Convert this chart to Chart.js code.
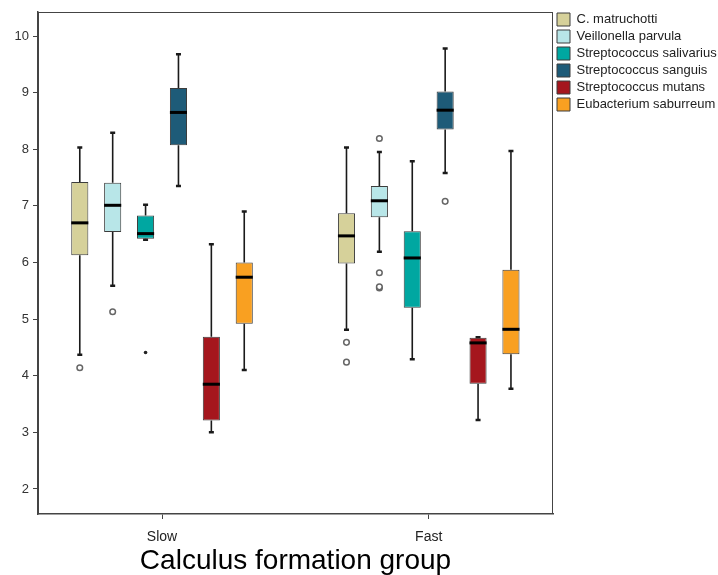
<!DOCTYPE html>
<html>
<head>
<meta charset="utf-8">
<title>Calculus formation group</title>
<script src="https://cdn.jsdelivr.net/npm/chart.js@4.4.1/dist/chart.umd.min.js"></script>
<style>
    body { margin: 0; background: #fff; }
    #boxChart { display: block; }
</style>
</head>
<body>
<canvas id="boxChart" width="718" height="575"></canvas>
<script>
// Groups on the x axis
const groups = ['Slow', 'Fast'];

// Species (one box per group each)
const species = [
    'C. matruchotti',
    'Veillonella parvula',
    'Streptococcus salivarius',
    'Streptococcus sanguis',
    'Streptococcus mutans',
    'Eubacterium saburreum'
];
const colors = ['#d6d19a', '#b8e6e8', '#00a7a1', '#1e5b78', '#a5161d', '#f9a021'];

// Box values, [Slow, Fast]
const whiskerLow  = [[4.37, 4.81], [5.59, 6.19], [6.40, 4.29], [7.35, 7.58], [3.00, 3.22], [4.10, 3.77]];
const q1          = [[6.13, 5.98], [6.54, 6.80], [6.42, 5.20], [8.07, 8.35], [3.21, 3.86], [4.92, 4.38]];
const median      = [[6.70, 6.47], [7.01, 7.09], [6.51, 6.08], [8.65, 8.69], [3.85, 4.58], [5.74, 4.82]];
const q3          = [[7.42, 6.87], [7.41, 7.35], [6.83, 6.55], [9.08, 9.02], [4.69, 4.67], [6.00, 5.87]];
const whiskerHigh = [[8.03, 8.03], [8.29, 7.95], [7.02, 7.79], [9.68, 9.78], [6.32, 4.68], [6.90, 7.97]];

// Outliers (circles) and extremes (dots), [Slow, Fast]
const outliers = [[[4.14], [4.59, 4.24]], [[5.13], [8.19, 5.82, 5.55, 5.57]], [[], []], [[], [7.08]], [[], []], [[], []]];
const extremes = [[[], []], [[], []], [[4.41], []], [[], []], [[], []], [[], []]];

const yTicks = [2, 3, 4, 5, 6, 7, 8, 9, 10];

// Whiskers, medians and outlier marks, placed with the chart's scales
const boxPlotPlugin = {
    id: 'boxPlotExtras',
    afterLayout(chart) {
        // legend sits a little higher than the plot frame
        chart.legend.top -= 3;
    },
    beforeDatasetsDraw(chart) {
        const ctx = chart.ctx;
        const y = chart.scales.y;
        ctx.save();
        ctx.strokeStyle = '#1a1a1a';
        chart.data.datasets.forEach((ds, i) => {
            chart.getDatasetMeta(i).data.forEach((bar, j) => {
                const x = bar.x;
                ctx.lineWidth = 1.6;
                ctx.beginPath();
                ctx.moveTo(x, y.getPixelForValue(whiskerLow[i][j]));
                ctx.lineTo(x, y.getPixelForValue(q1[i][j]));
                ctx.moveTo(x, y.getPixelForValue(q3[i][j]));
                ctx.lineTo(x, y.getPixelForValue(whiskerHigh[i][j]));
                ctx.stroke();
                ctx.lineWidth = 2.5;
                ctx.beginPath();
                [whiskerLow[i][j], whiskerHigh[i][j]].forEach(v => {
                    const py = y.getPixelForValue(v);
                    ctx.moveTo(x - 2.5, py);
                    ctx.lineTo(x + 2.5, py);
                });
                ctx.stroke();
            });
        });
        ctx.restore();
    },
    afterDatasetsDraw(chart) {
        const ctx = chart.ctx;
        const y = chart.scales.y;
        ctx.save();
        chart.data.datasets.forEach((ds, i) => {
            chart.getDatasetMeta(i).data.forEach((bar, j) => {
                const x = bar.x;
                const half = bar.width / 2;
                const py = y.getPixelForValue(median[i][j]);
                ctx.strokeStyle = '#000';
                ctx.lineWidth = 3;
                ctx.beginPath();
                ctx.moveTo(x - half, py);
                ctx.lineTo(x + half, py);
                ctx.stroke();

                ctx.strokeStyle = '#666';
                ctx.lineWidth = 1.5;
                outliers[i][j].forEach(v => {
                    ctx.beginPath();
                    ctx.arc(x, y.getPixelForValue(v), 2.8, 0, Math.PI * 2);
                    ctx.fillStyle = '#fff';
                    ctx.fill();
                    ctx.stroke();
                });
                ctx.fillStyle = '#222';
                extremes[i][j].forEach(v => {
                    ctx.beginPath();
                    ctx.arc(x, y.getPixelForValue(v), 1.8, 0, Math.PI * 2);
                    ctx.fill();
                });
            });
        });
        ctx.restore();
    },
    afterDraw(chart) {
        const {left, top, right, bottom} = chart.chartArea;
        const ctx = chart.ctx;
        ctx.save();
        ctx.strokeStyle = '#444';
        ctx.lineWidth = 1;
        ctx.strokeRect(left + 0.5, top + 0.5, right - left - 1, bottom - top - 1);
        ctx.restore();
    }
};

const ctx = document.getElementById('boxChart').getContext('2d');
new Chart(ctx, {
    type: 'bar',
    data: {
        datasets: species.map((name, i) => ({
            label: name,
            data: groups.map((g, j) => ({ x: j + 1, y: [q1[i][j], q3[i][j]] })),
            backgroundColor: colors[i],
            borderColor: '#3c3c3c',
            borderWidth: 1,
            borderSkipped: false,
            categoryPercentage: 0.74,
            barPercentage: 0.52
        }))
    },
    options: {
        responsive: false,
        animation: false,
        layout: { padding: { top: 12, left: 0, right: 0, bottom: 0 } },
        scales: {
            x: {
                type: 'linear',
                offset: false,
                min: 0.535,
                max: 2.466,
                afterBuildTicks: scale => {
                    scale.ticks = groups.map((g, j) => ({ value: j + 1 }));
                },
                afterFit: scale => { scale.height = 61; },
                ticks: {
                    callback: value => groups[value - 1],
                    color: '#222',
                    font: { family: 'Liberation Sans, Arial', size: 14 },
                    padding: 10,
                    maxRotation: 0
                },
                grid: { offset: false, drawOnChartArea: false, drawTicks: true, tickLength: 5, color: '#444' },
                border: { color: '#444', width: 1.5 },
                title: {
                    display: true,
                    text: 'Calculus formation group',
                    color: '#000',
                    font: { family: 'Liberation Sans, Arial', size: 28 },
                    padding: { top: 0, bottom: -3 }
                }
            },
            y: {
                min: 1.558,
                max: 10.424,
                afterBuildTicks: scale => {
                    scale.ticks = yTicks.map(v => ({ value: v }));
                },
                afterFit: scale => { scale.width = 38; },
                ticks: {
                    color: '#333',
                    font: { family: 'Liberation Sans, Arial', size: 13 },
                    padding: 4
                },
                grid: { drawOnChartArea: false, drawTicks: true, tickLength: 5, color: '#444' },
                border: { color: '#444', width: 1.5 }
            }
        },
        plugins: {
            legend: {
                position: 'right',
                align: 'start',
                maxWidth: 165,
                labels: {
                    boxWidth: 13,
                    boxHeight: 13,
                    padding: 4,
                    color: '#222',
                    font: { family: 'Liberation Sans, Arial', size: 13 }
                }
            },
            tooltip: { enabled: false }
        }
    },
    plugins: [boxPlotPlugin]
});
</script>
</body>
</html>
